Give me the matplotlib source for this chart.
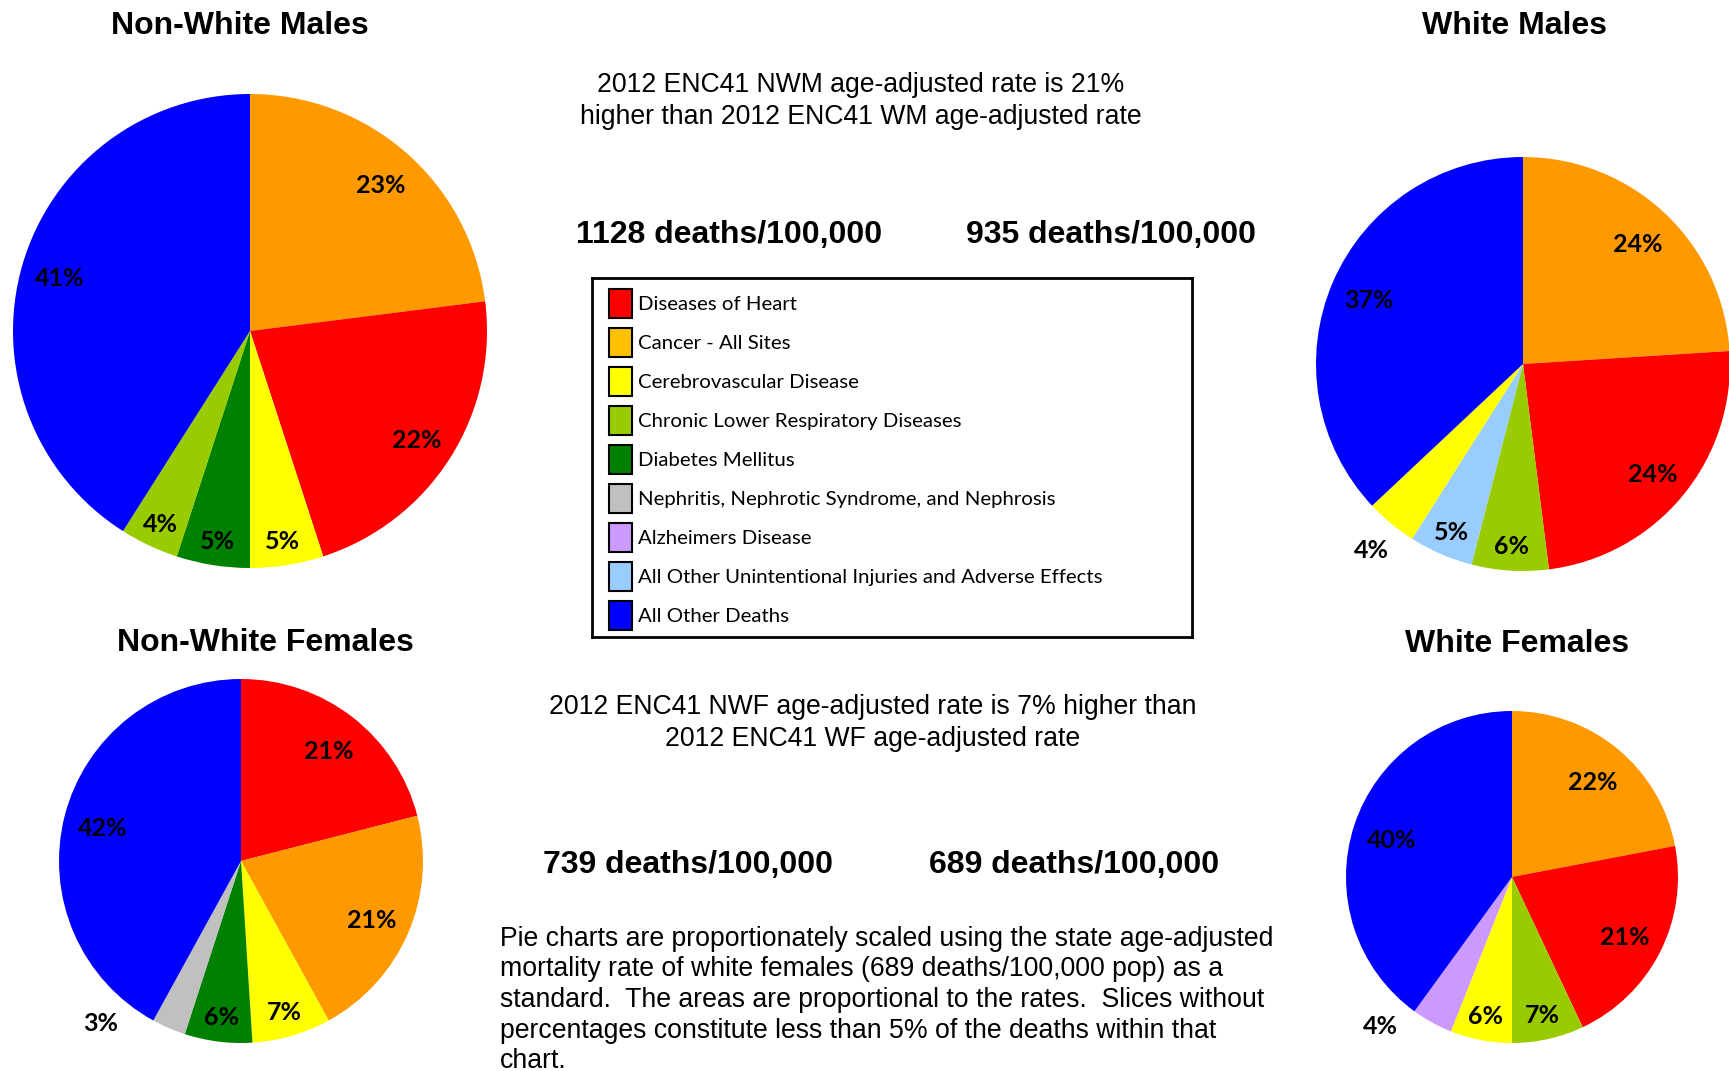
import matplotlib
matplotlib.use("Agg")
import matplotlib.pyplot as plt
from matplotlib.patches import Patch
import numpy as np

W, H = 1729, 1071

# causes of death (legend order) and their colours
causes = ["Diseases of Heart", "Cancer - All Sites", "Cerebrovascular Disease",
          "Chronic Lower Respiratory Diseases", "Diabetes Mellitus",
          "Nephritis, Nephrotic Syndrome, and Nephrosis", "Alzheimers Disease",
          "All Other Unintentional Injuries and Adverse Effects", "All Other Deaths"]
legend_colors = ["#FF0000", "#FFC000", "#FFFF00", "#99CC00", "#008000",
                 "#C0C0C0", "#CC99FF", "#99CCFF", "#0000FF"]
pie_colors = {"heart": "#FF0000", "cancer": "#FF9900", "cereb": "#FFFF00",
              "clrd": "#99CC00", "diab": "#008000", "neph": "#C0C0C0",
              "alz": "#CC99FF", "inj": "#99CCFF", "other": "#0000FF"}

# slices, clockwise from 12 o'clock
nwm_keys = ["cancer", "heart", "cereb", "diab", "clrd", "other"]
nwm_vals = [23, 22, 5, 5, 4, 41]
wm_keys = ["cancer", "heart", "clrd", "inj", "cereb", "other"]
wm_vals = [24, 24, 6, 5, 4, 37]
nwf_keys = ["heart", "cancer", "cereb", "diab", "neph", "other"]
nwf_vals = [21, 21, 7, 6, 3, 42]
wf_keys = ["cancer", "heart", "clrd", "cereb", "alz", "other"]
wf_vals = [22, 21, 7, 6, 4, 40]

rates = [1128, 935, 739, 689]


def px(x, y):
    return x / W, 1 - y / H


fig = plt.figure(figsize=(W / 100, H / 100), dpi=100)


def draw_pie(cx, cy, r, keys, vals, title, tx, ty, outside=None):
    # outside: {slice index: extra clockwise angle in degrees}
    outside = outside or {}
    x0, y0 = px(cx - r, cy + r)
    ax = fig.add_axes([x0, y0, 2 * r / W, 2 * r / H])
    wedges, _ = ax.pie(vals, colors=[pie_colors[k] for k in keys],
                       startangle=90, counterclock=False,
                       wedgeprops=dict(linewidth=0))
    for i, (w, v) in enumerate(zip(wedges, vals)):
        ang = (w.theta1 + w.theta2) / 2
        if i in outside:
            ang -= outside[i]
            d = 1 + 31 / r
        elif v < 10:
            d = 1 - 27 / r
        else:
            d = 1 - 39 / r
        t = np.deg2rad(ang)
        ax.text(d * np.cos(t), d * np.sin(t) - 3 / r, f"{v}%", ha="center", va="center",
                fontsize=18, fontweight="bold", family="Lato")
    ax.set_xlim(-1, 1)
    ax.set_ylim(-1, 1)
    ax.axis("off")
    fig.text(*px(tx, ty), title, ha="center", va="center", fontsize=23,
             fontweight="bold", family="Liberation Sans")


draw_pie(250, 331, 237, nwm_keys, nwm_vals, "Non-White Males", 240, 26)
draw_pie(1523, 364, 207, wm_keys, wm_vals, "White Males", 1514, 26, outside={4: 0})
draw_pie(241, 861, 182, nwf_keys, nwf_vals, "Non-White Females", 265, 643, outside={4: 18})
draw_pie(1512, 877, 166, wf_keys, wf_vals, "White Females", 1517, 644, outside={4: 13})

# legend box
lx0, ly0 = px(592, 637)
lax = fig.add_axes([lx0, ly0, 600 / W, 359 / H])
lax.set_xticks([])
lax.set_yticks([])
for s in lax.spines.values():
    s.set_linewidth(2)
handles = [Patch(facecolor=c, edgecolor="black", linewidth=1.5) for c in legend_colors]
lax.legend(handles, causes, loc="upper left", bbox_to_anchor=px(609, 289),
           bbox_transform=fig.transFigure, frameon=False, borderpad=0,
           borderaxespad=0, handlelength=1.15, handleheight=1.81,
           handletextpad=0.25, labelspacing=0.49,
           prop=dict(family="Lato", size=14.7))

txt = dict(ha="center", va="center", family="Liberation Sans")
fig.text(*px(861, 101), "2012 ENC41 NWM age-adjusted rate is 21%\nhigher than 2012 ENC41 WM age-adjusted rate",
         fontsize=19.2, linespacing=1.25, **txt)
fig.text(*px(729, 235), f"{rates[0]} deaths/100,000", fontsize=23, fontweight="bold", **txt)
fig.text(*px(1111, 235), f"{rates[1]} deaths/100,000", fontsize=23, fontweight="bold", **txt)
fig.text(*px(873, 723), "2012 ENC41 NWF age-adjusted rate is 7% higher than\n2012 ENC41 WF age-adjusted rate",
         fontsize=19.2, linespacing=1.25, **txt)
fig.text(*px(688, 865), f"{rates[2]} deaths/100,000", fontsize=23, fontweight="bold", **txt)
fig.text(*px(1074, 865), f"{rates[3]} deaths/100,000", fontsize=23, fontweight="bold", **txt)

note = ("Pie charts are proportionately scaled using the state age-adjusted\n"
        "mortality rate of white females (689 deaths/100,000 pop) as a\n"
        "standard.  The areas are proportional to the rates.  Slices without\n"
        "percentages constitute less than 5% of the deaths within that\n"
        "chart.")
fig.text(*px(500, 926), note, ha="left", va="top", family="Liberation Sans",
         fontsize=19.2, linespacing=1.225)

fig.savefig("out.png", dpi=100)
